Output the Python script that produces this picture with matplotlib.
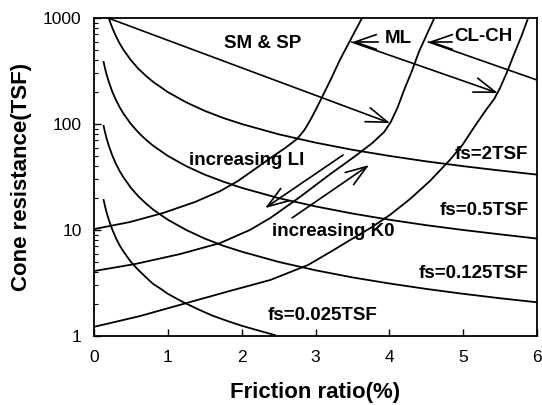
import matplotlib
matplotlib.use("Agg")
import matplotlib.pyplot as plt
from matplotlib.ticker import LogLocator, NullFormatter, FixedLocator, FixedFormatter

plt.rcParams['font.family'] = ['Liberation Sans', 'DejaVu Sans']

# Constant sleeve-friction curves (friction ratio %, cone resistance TSF)
rf_fs2 = [0.19, 0.22, 0.25, 0.3, 0.35, 0.4, 0.5, 0.6, 0.7, 0.8, 1.0, 1.25, 1.5, 1.75, 2.0, 2.5, 3.0, 3.5, 4.0, 4.5, 5.0, 5.5, 6.0]
qc_fs2 = [1050, 909, 800, 667, 571, 500, 400, 333, 286, 250, 200, 160, 133, 114, 100, 80, 66.7, 57.1, 50, 44.4, 40, 36.4, 33.3]

rf_fs05 = [0.13, 0.15, 0.17, 0.2, 0.25, 0.3, 0.35, 0.4, 0.5, 0.6, 0.7, 0.8, 1.0, 1.25, 1.5, 1.75, 2.0, 2.5, 3.0, 3.5, 4.0, 4.5, 5.0, 5.5, 6.0]
qc_fs05 = [385, 333, 294, 250, 200, 167, 143, 125, 100, 83.3, 71.4, 62.5, 50, 40, 33.3, 28.6, 25, 20, 16.7, 14.3, 12.5, 11.1, 10, 9.1, 8.3]

rf_fs0125 = [0.13, 0.15, 0.17, 0.2, 0.25, 0.3, 0.35, 0.4, 0.5, 0.6, 0.7, 0.8, 1.0, 1.25, 1.5, 1.75, 2.0, 2.5, 3.0, 3.5, 4.0, 4.5, 5.0, 5.5, 6.0]
qc_fs0125 = [96, 83.3, 73.5, 62.5, 50, 41.7, 35.7, 31.3, 25, 20.8, 17.9, 15.6, 12.5, 10, 8.3, 7.1, 6.25, 5.0, 4.17, 3.57, 3.13, 2.78, 2.5, 2.27, 2.08]

rf_fs0025 = [0.13, 0.15, 0.17, 0.2, 0.25, 0.3, 0.35, 0.4, 0.5, 0.6, 0.7, 0.8, 0.9, 1.0, 1.2, 1.4, 1.6, 1.8, 2.0, 2.2, 2.45]
qc_fs0025 = [19.2, 16.7, 14.7, 12.5, 10, 8.3, 7.1, 6.25, 5.0, 4.2, 3.6, 3.1, 2.8, 2.5, 2.1, 1.8, 1.56, 1.39, 1.25, 1.14, 1.02]

# Soil-type boundary curves
rf_b1 = [0, 0.49, 0.94, 1.37, 1.71, 1.95, 2.18, 2.39, 2.59, 2.75, 2.85, 2.93, 3.01, 3.09, 3.21, 3.33, 3.48, 3.63]
qc_b1 = [10.2, 11.9, 14.5, 18.4, 23.3, 29.0, 37.6, 47.8, 59.4, 72.2, 87.8, 109, 139, 180, 266, 402, 634, 1000]

rf_b2 = [0, 0.56, 1.17, 1.71, 2.11, 2.39, 2.79, 3.20, 3.54, 3.77, 3.93, 4.02, 4.11, 4.20, 4.30, 4.40, 4.51, 4.61]
qc_b2 = [4.1, 4.78, 5.94, 7.54, 10.0, 13.0, 20.5, 33.7, 49.9, 66.2, 84.1, 104.5, 142, 209, 309, 478, 706, 1000]

rf_b3 = [0, 0.62, 1.30, 1.84, 2.39, 2.90, 3.20, 3.47, 3.74, 4.01, 4.28, 4.55, 4.82, 4.99, 5.15, 5.31, 5.42, 5.50, 5.60, 5.69, 5.79, 5.88]
qc_b3 = [1.22, 1.54, 2.09, 2.66, 3.38, 4.68, 6.2, 8.05, 10.4, 13.9, 19.6, 29.0, 45.8, 63.4, 93.7, 136, 172, 219, 316, 457, 676, 1000]

xticks = [0, 1, 2, 3, 4, 5, 6]
yticks = [1, 10, 100, 1000]
ytick_labels = ['1', '10', '100', '1000']

fig = plt.figure(figsize=(5.42, 4.05), dpi=100)
ax = fig.add_axes([94 / 542, 69 / 405, 443 / 542, 318 / 405])

lw = 1.3
for xs, ys in [(rf_fs2, qc_fs2), (rf_fs05, qc_fs05), (rf_fs0125, qc_fs0125),
               (rf_fs0025, qc_fs0025), (rf_b1, qc_b1), (rf_b2, qc_b2), (rf_b3, qc_b3)]:
    ax.plot(xs, ys, color='black', lw=lw, solid_joinstyle='round')

ax.set_yscale('log')
ax.set_xlim(0, 6)
ax.set_ylim(1, 1000)

ax.xaxis.set_major_locator(FixedLocator(xticks))
ax.yaxis.set_major_locator(FixedLocator(yticks))
ax.yaxis.set_major_formatter(FixedFormatter(ytick_labels))
ax.yaxis.set_minor_locator(LogLocator(base=10, subs=range(2, 10)))
ax.yaxis.set_minor_formatter(NullFormatter())
ax.tick_params(axis='both', which='major', direction='in', length=5, width=1,
               labelsize=12.5, top=False, right=False)
ax.tick_params(axis='x', which='major', pad=10)
ax.tick_params(axis='y', which='major', pad=9)
ax.tick_params(axis='y', which='minor', direction='in', length=3, width=0.8, right=False)
for sp in ax.spines.values():
    sp.set_linewidth(1.3)

ax.set_xlabel('Friction ratio(%)', fontsize=16, fontweight='bold', labelpad=12)
ax.set_ylabel('Cone resistance(TSF)', fontsize=16, fontweight='bold', labelpad=8)

tkw = dict(fontsize=13.5, fontweight='bold', ha='center', va='center')
ax.text(2.28, 569, 'SM & SP', **tkw)
ax.text(4.12, 647, 'ML', **tkw)
ax.text(5.27, 676, 'CL-CH', **tkw)
ax.text(2.07, 44.8, 'increasing LI', **tkw)
ax.text(3.24, 9.6, 'increasing K0', **tkw)
ax.text(5.38, 51, 'fs=2TSF', **tkw)
ax.text(5.28, 15.4, 'fs=0.5TSF', **tkw)
ax.text(5.14, 3.85, 'fs=0.125TSF', **tkw)
ax.text(3.10, 1.55, 'fs=0.025TSF', **tkw)

arw = dict(arrowstyle='->,head_length=1.1,head_width=0.38', lw=1.2, color='black',
           shrinkA=0, shrinkB=0, mutation_scale=14)
def arrow(x0, y0, x1, y1):
    ax.annotate('', xy=(x1, y1), xytext=(x0, y0), arrowprops=arw)

arrow(0.19, 1000, 4.01, 102)
arrow(3.85, 594, 3.50, 594)
arrow(3.49, 594, 5.47, 196)
arrow(4.85, 594, 4.53, 594)
ax.plot([4.53, 6.0], [594, 260], color='black', lw=1.2)
arrow(3.374, 51, 2.317, 16.1)
arrow(2.683, 13.0, 3.726, 41.0)

fig.savefig('out.png', dpi=100)
